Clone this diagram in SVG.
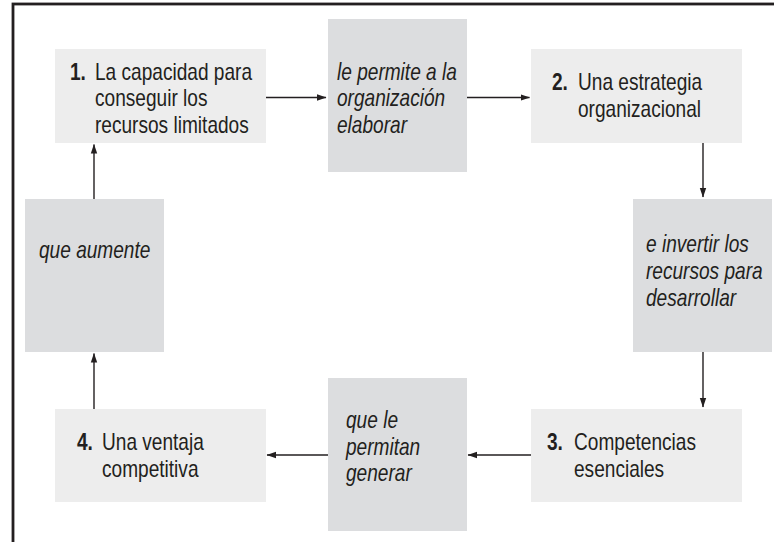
<svg xmlns="http://www.w3.org/2000/svg" width="774" height="542" viewBox="0 0 774 542">
<defs>
<marker id="ah" markerWidth="10" markerHeight="8" refX="9" refY="4" orient="auto" markerUnits="userSpaceOnUse">
<path d="M0,0.8 L9.5,4 L0,7.2 Z" fill="#231f20"/>
</marker>
<style>
.frame{fill:none;stroke:#231f20;stroke-width:2.8}
.lt{fill:#ededed}
.dk{fill:#dcdddf}
text{font-family:"Liberation Sans",Arial,sans-serif;font-size:23px;fill:#231f20}
.b{font-weight:bold}
.i{font-style:italic}
.c{fill:none;stroke:#231f20;stroke-width:1.4;marker-end:url(#ah)}
</style>
</defs>
<rect width="774" height="542" fill="#ffffff"/>
<rect class="frame" x="13" y="4" width="800" height="600"/>
<g id="n1"><rect class="lt" x="55" y="49" width="211" height="94"/>
<g transform="translate(70 0) scale(0.83 1)"><text x="0" y="80" class="b">1.</text></g>
<g transform="translate(95 0) scale(0.83 1)">
<text x="0" y="80">La capacidad para</text>
<text x="0" y="106.5">conseguir los</text>
<text x="0" y="133">recursos limitados</text></g></g>
<g id="l1"><rect class="dk" x="328" y="19" width="139" height="153"/>
<g transform="translate(337 0) scale(0.83 1)">
<text class="i" x="0" y="80">le permite a la</text>
<text class="i" x="0" y="106.5">organización</text>
<text class="i" x="0" y="133">elaborar</text></g></g>
<g id="n2"><rect class="lt" x="531" y="49" width="211" height="94"/>
<g transform="translate(552 0) scale(0.83 1)"><text x="0" y="90" class="b">2.</text></g>
<g transform="translate(578 0) scale(0.83 1)">
<text x="0" y="90">Una estrategia</text>
<text x="0" y="117">organizacional</text></g></g>
<g id="l2"><rect class="dk" x="633" y="199" width="139" height="153"/>
<g transform="translate(646 0) scale(0.83 1)">
<text class="i" x="0" y="252">e invertir los</text>
<text class="i" x="0" y="279">recursos para</text>
<text class="i" x="0" y="306">desarrollar</text></g></g>
<g id="n3"><rect class="lt" x="531" y="409" width="211" height="93"/>
<g transform="translate(547 0) scale(0.83 1)"><text x="0" y="450" class="b">3.</text></g>
<g transform="translate(574 0) scale(0.83 1)">
<text x="0" y="450">Competencias</text>
<text x="0" y="477">esenciales</text></g></g>
<g id="l3"><rect class="dk" x="328" y="378" width="139" height="153"/>
<g transform="translate(346 0) scale(0.83 1)">
<text class="i" x="0" y="428">que le</text>
<text class="i" x="0" y="455">permitan</text>
<text class="i" x="0" y="481">generar</text></g></g>
<g id="n4"><rect class="lt" x="55" y="409" width="211" height="93"/>
<g transform="translate(77 0) scale(0.83 1)"><text x="0" y="450" class="b">4.</text></g>
<g transform="translate(102 0) scale(0.83 1)">
<text x="0" y="450">Una ventaja</text>
<text x="0" y="477">competitiva</text></g></g>
<g id="l4"><rect class="dk" x="25" y="199" width="139" height="153"/>
<g transform="translate(39 0) scale(0.83 1)">
<text class="i" x="0" y="258">que aumente</text></g></g>
<g id="connectors">
<line class="c" x1="266" y1="97.5" x2="326" y2="97.5"/>
<line class="c" x1="467" y1="97.5" x2="529.5" y2="97.5"/>
<line class="c" x1="703" y1="143" x2="703" y2="197"/>
<line class="c" x1="703" y1="352" x2="703" y2="407"/>
<line class="c" x1="531" y1="455" x2="468" y2="455"/>
<line class="c" x1="328" y1="455" x2="267" y2="455"/>
<line class="c" x1="94" y1="409" x2="94" y2="353.5"/>
<line class="c" x1="94" y1="199" x2="94" y2="144.5"/>
</g>
</svg>
